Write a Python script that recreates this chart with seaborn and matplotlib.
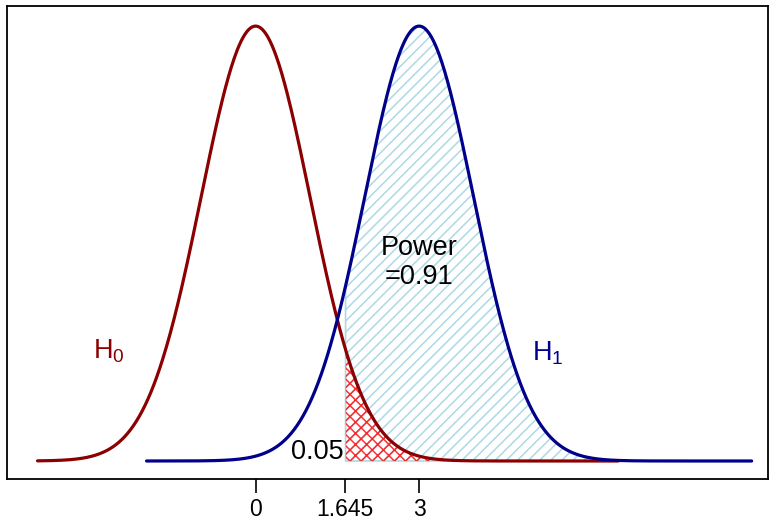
import numpy as np
import pandas as pd
import matplotlib
matplotlib.use("Agg")
import matplotlib.pyplot as plt
import seaborn as sns

# 分布參數
hyp_labels = ["H$_0$", "H$_1$"]
hyp_means = [0.0, 3.0]
hyp_sd = [1.0, 1.0]
hyp_ranges = [(-4.0, 6.65), (-2.0, 9.1)]
hyp_colors = ["#8B0000", "#00008B"]

crit_value = 1.645
alpha_text = "0.05"
power_text = "Power\n=0.91"
tick_values = [0, 1.645, 3]
tick_labels = ["0", "1.645", "3"]

sns.set_style("white")
plt.rcParams["font.family"] = ["Liberation Sans", "DejaVu Sans"]
plt.rcParams["text.color"] = "black"
plt.rcParams["xtick.color"] = "black"
plt.rcParams["mathtext.fontset"] = "custom"
plt.rcParams["mathtext.rm"] = "Liberation Sans"
plt.rcParams["mathtext.it"] = "Liberation Sans"
plt.rcParams["mathtext.default"] = "regular"
plt.rcParams["hatch.linewidth"] = 1.1


def density(lo, hi, mu, sd, n=600):
    x = np.linspace(lo, hi, n)
    y = np.exp(-0.5 * ((x - mu) / sd) ** 2) / (sd * np.sqrt(2 * np.pi))
    return pd.DataFrame({"x": x, "y": y})


curves = [density(r[0], r[1], m, s) for r, m, s in zip(hyp_ranges, hyp_means, hyp_sd)]

fig = plt.figure(figsize=(7.69, 5.26), dpi=100)
ax = fig.add_axes([0.0091, 0.0894, 0.9896, 0.8992])

# 拒絕域：H1 之下（淺藍斜線）
d1 = curves[1][curves[1]["x"] >= crit_value]
ax.fill_between(d1["x"], 0, d1["y"], facecolor="none", edgecolor="lightblue",
                hatch="///", linewidth=1.2, zorder=1)
# 拒絕域：H0 之下（紅色交叉線）
d0 = curves[0][curves[0]["x"] >= crit_value]
ax.fill_between(d0["x"], 0, d0["y"], facecolor="none", edgecolor="red",
                hatch="xxx", linewidth=0, zorder=2, alpha=0.8)

for df, col in zip(curves, hyp_colors):
    sns.lineplot(data=df, x="x", y="y", color=col, linewidth=2.3, ax=ax, zorder=3)

ax.set_xlim(-4.56, 9.40)
ax.set_ylim(-0.0165, 0.4174)
ax.set_xticks(tick_values)
ax.set_xticklabels(tick_labels, fontsize=16.5)
ax.set_yticks([])
ax.set_xlabel("")
ax.set_ylabel("")
ax.tick_params(axis="x", direction="out", length=10, width=1.2, color="black", pad=4, bottom=True)
for sp in ax.spines.values():
    sp.set_visible(True)
    sp.set_color("black")
    sp.set_linewidth(1.3)

ax.text(-2.7, 0.101, hyp_labels[0], color=hyp_colors[0], fontsize=19.5, ha="center", va="center")
ax.text(5.36, 0.099, hyp_labels[1], color=hyp_colors[1], fontsize=19.5, ha="center", va="center")
ax.text(3.0, 0.182, power_text, fontsize=19.5, ha="center", va="center", linespacing=1.15)
ax.text(1.61, 0.008, alpha_text, fontsize=19.5, ha="right", va="center")

fig.savefig("out.png", dpi=100)
